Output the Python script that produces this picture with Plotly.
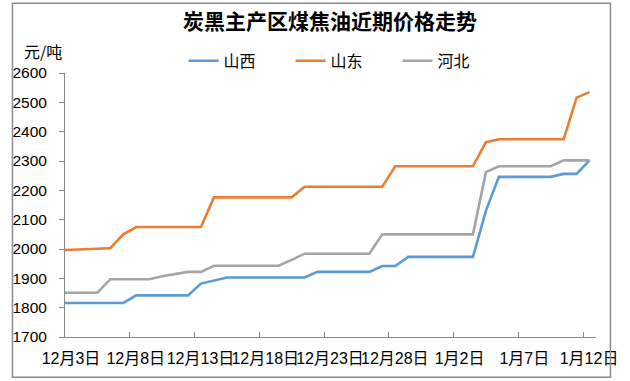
import pandas as pd
import plotly.graph_objects as go

# Daily prices (yuan/tonne), 2 Dec - 12 Jan
dates = pd.date_range("2023-12-02", "2024-01-12", freq="D")

shanxi = [1816, 1816, 1816, 1816, 1816, 1816, 1842, 1842, 1842, 1842, 1842,
          1882, 1892, 1903, 1903, 1903, 1903, 1903, 1903, 1903, 1922, 1922,
          1922, 1922, 1922, 1942, 1942, 1973, 1973, 1973, 1973, 1973, 1973,
          2130, 2246, 2246, 2246, 2246, 2246, 2256, 2256, 2302]
shandong = [1996, 1997, 1999, 2001, 2003, 2050, 2075, 2075, 2075, 2075, 2075,
            2075, 2176, 2176, 2176, 2176, 2176, 2176, 2176, 2212, 2212, 2212,
            2212, 2212, 2212, 2212, 2282, 2282, 2282, 2282, 2282, 2282, 2282,
            2364, 2374, 2374, 2374, 2374, 2374, 2374, 2516, 2535]
hebei = [1851, 1851, 1851, 1851, 1897, 1897, 1897, 1897, 1907, 1915, 1922,
         1922, 1943, 1943, 1943, 1943, 1943, 1943, 1963, 1984, 1984, 1984,
         1984, 1984, 1984, 2050, 2050, 2050, 2050, 2050, 2050, 2050, 2050,
         2262, 2282, 2282, 2282, 2282, 2282, 2302, 2302, 2302]

series_names = ["山西", "山东", "河北"]
series_colors = ["#5B9BD5", "#ED7D31", "#A5A5A5"]

tick_dates = pd.date_range("2023-12-03", periods=9, freq="5D")
tick_labels = ["12月3日", "12月8日", "12月13日", "12月18日", "12月23日",
               "12月28日", "1月2日", "1月7日", "1月12日"]

FONT = "Liberation Sans, Noto Sans CJK SC, sans-serif"
CJK = "Noto Sans CJK SC, sans-serif"

fig = go.Figure()
for name, ys, col in zip(series_names, [shanxi, shandong, hebei], series_colors):
    fig.add_trace(go.Scatter(x=dates, y=ys, mode="lines", name=name,
                             line=dict(color=col, width=2.6)))

# each day occupies one cell; ticks sit on the cell boundaries
half_day = pd.Timedelta(hours=12)
x_start = pd.Timestamp("2023-12-03") - half_day
x_end = pd.Timestamp("2024-01-12") + half_day

W, H = 630, 381
L, R, T, B = 57, 22, 72.7, 44.3
pw, ph = W - L - R, H - T - B

def px_x(p):
    return (p - L) / pw

def px_y(p):
    return (H - B - p) / ph

fig.update_layout(
    width=W, height=H,
    margin=dict(l=L, r=R, t=T, b=B, pad=0),
    paper_bgcolor="white", plot_bgcolor="white",
    font=dict(family=FONT, color="#000000"),
    title=dict(text="<b>炭黑主产区煤焦油近期价格走势</b>",
               font=dict(family=CJK, size=21, color="#000000"),
               x=330 / W, xanchor="center", xref="container",
               y=1 - 22 / H, yanchor="middle", yref="container"),
    showlegend=True,
    legend=dict(orientation="h", x=px_x(180), xanchor="left",
                y=px_y(60.5), yanchor="middle",
                font=dict(family=CJK, size=16, color="#000000"),
                bgcolor="rgba(0,0,0,0)", itemwidth=30,
                entrywidth=62, entrywidthmode="pixels"),
    xaxis=dict(type="date", range=[x_start, x_end],
               tickvals=tick_dates - half_day, ticktext=tick_labels,
               tickangle=0,
               ticks="inside", ticklen=5, tickcolor="#898989",
               showline=True, linecolor="#898989", linewidth=1,
               showgrid=False, zeroline=False,
               ticklabelshift=6, ticklabelstandoff=7,
               tickfont=dict(family=FONT, size=16, color="#000000")),
    yaxis=dict(range=[1700, 2600], dtick=100, tick0=1700,
               ticks="outside", ticklen=5, tickcolor="#898989",
               showline=True, linecolor="#898989", linewidth=1,
               showgrid=False, zeroline=False, ticklabelstandoff=9,
               tickfont=dict(family=FONT, size=15.5, color="#000000")),
    annotations=[dict(text="元/吨", xref="paper", yref="paper",
                      x=px_x(34), y=px_y(51), xanchor="center", yanchor="middle",
                      showarrow=False,
                      font=dict(family=CJK, size=16, color="#000000"))],
    shapes=[dict(type="rect", xref="paper", yref="paper",
                 x0=px_x(2.5), x1=px_x(623), y0=px_y(377), y1=px_y(3),
                 line=dict(color="#8C8C8C", width=1.5), layer="above")],
)

fig.write_html("out.html")
